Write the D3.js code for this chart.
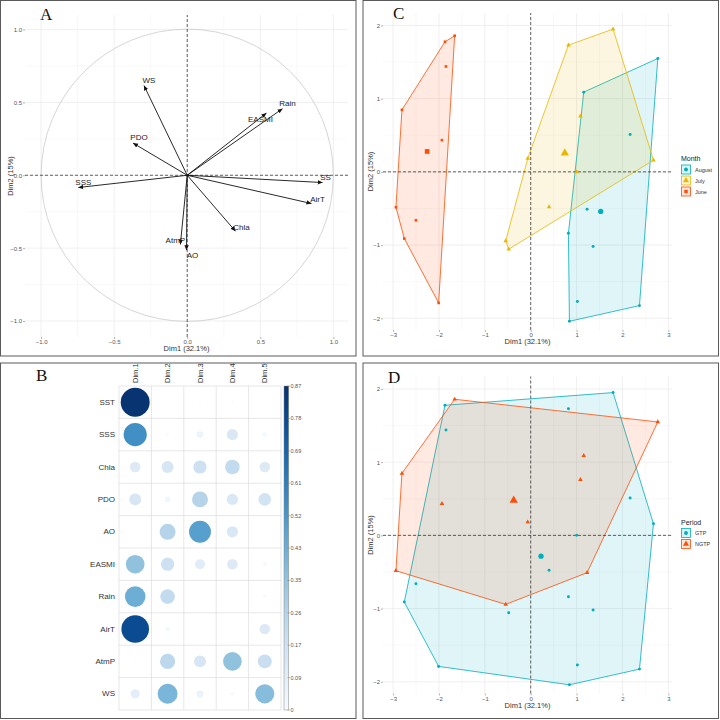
<!DOCTYPE html>
<html><head><meta charset="utf-8">
<script src="https://cdn.jsdelivr.net/npm/d3@7"></script>
<style>body{margin:0;background:#fff}svg{display:block}</style>
</head><body>
<svg id="c" width="720" height="720"></svg>
<script>
// ---------- DATA ----------
// Panel A: variable coordinates on Dim1/Dim2
const varNames  = ["SST","SSS","Chla","PDO","AO","EASMI","Rain","AirT","AtmP","WS"];
const varLabels = ["SS","SSS","Chla","PDO","AO","EASMI","Rain","AirT","AtmP","WS"];
const varDim1 = [0.926,-0.745,0.330,-0.371,-0.005,0.542,0.652,0.850,-0.047,-0.296];
const varDim2 = [-0.050,-0.084,-0.384,0.221,-0.514,0.427,0.457,-0.194,-0.475,0.616];
const ticksA = [-1.0,-0.5,0.0,0.5,1.0];

// Panel B: cos2 of variables on Dim.1..Dim.5
const dimNames = ["Dim.1","Dim.2","Dim.3","Dim.4","Dim.5"];
const cos2Dim1 = [0.857,0.550,0.116,0.146,0.000,0.354,0.434,0.780,0.002,0.088];
const cos2Dim2 = [0.002,0.007,0.146,0.036,0.259,0.179,0.219,0.022,0.237,0.405];
const cos2Dim3 = [0.004,0.045,0.179,0.259,0.490,0.101,0.000,0.000,0.146,0.054];
const cos2Dim4 = [0.004,0.129,0.219,0.129,0.129,0.116,0.000,0.000,0.354,0.011];
const cos2Dim5 = [0.000,0.022,0.116,0.163,0.000,0.016,0.011,0.116,0.199,0.377];
const colorbarLabels = ["0","0.09","0.17","0.26","0.35","0.43","0.52","0.61","0.69","0.78","0.87"];
const cos2Max = 0.87;

// Panels C/D: individuals
const indDim1 = [-1.658,-1.869,-1.847,-2.807,-1.935,-2.938,-2.502,-2.756,-2.007,
                  1.796, 0.822, 1.084,-0.065, 2.676, 1.004, 0.400,-0.545,-0.480,
                  2.771, 1.156, 2.167, 1.229, 0.822, 1.360, 1.018, 0.844, 2.371];
const indDim2 = [ 1.859, 1.777, 1.440, 0.847, 0.433,-0.483,-0.661,-0.911,-1.790,
                  1.950, 1.731, 0.761, 0.182, 0.159, 0.000,-0.478,-0.943,-1.057,
                  1.549, 1.089, 0.510,-0.510,-0.838,-1.020,-1.772,-2.041,-1.827];
const indMonth = ["June","June","June","June","June","June","June","June","June",
                  "July","July","July","July","July","July","July","July","July",
                  "August","August","August","August","August","August","August","August","August"];
const indPeriod = ["NGTP","GTP","GTP","NGTP","NGTP","NGTP","GTP","GTP","GTP",
                   "GTP","GTP","NGTP","NGTP","GTP","GTP","GTP","NGTP","GTP",
                   "NGTP","NGTP","GTP","NGTP","GTP","GTP","GTP","GTP","GTP"];
const monthLevels = ["August","July","June"];
const periodLevels = ["GTP","NGTP"];
const ticksX = [-3,-2,-1,0,1,2,3];
const ticksY = [-2,-1,0,1,2];

// ---------- STYLE ----------
const sans = "Liberation Sans, Arial, Helvetica, sans-serif";
const serif = "Liberation Serif, Times New Roman, serif";
const palette3 = ["#00AFBB","#E7B800","#FC4E07"];
const svg = d3.select("#c");

// panel borders
[[0.5,0.5],[363,0.5],[0.5,363],[363,363]].forEach(([x,y])=>{
  svg.append("rect").attr("x",x).attr("y",y).attr("width",355.5).attr("height",355.5)
    .attr("fill","none").attr("stroke","#5a5a5a").attr("stroke-width",1);
});
function letter(t,x,y){
  svg.append("text").attr("x",x).attr("y",y).text(t)
    .attr("font-family",serif).attr("font-size",17).attr("fill","#111");
}
letter("A",40,20); letter("C",393,18.5); letter("B",36,381); letter("D",388,383);

function styleAxis(g){
  g.select(".domain").remove();
  g.selectAll("line").attr("stroke","#666").attr("stroke-width",0.5);
  g.selectAll("text").attr("font-size",6).attr("fill","#555").attr("font-family",sans);
}
function grid(g, xs, ys, majX, minX, majY, minY){
  const [x0,x1]=xs.range(), [y0,y1]=ys.range();
  minX.forEach(v=>g.append("line").attr("x1",xs(v)).attr("x2",xs(v)).attr("y1",y0).attr("y2",y1).attr("stroke","#f3f3f3").attr("stroke-width",0.5));
  minY.forEach(v=>g.append("line").attr("y1",ys(v)).attr("y2",ys(v)).attr("x1",x0).attr("x2",x1).attr("stroke","#f3f3f3").attr("stroke-width",0.5));
  majX.forEach(v=>g.append("line").attr("x1",xs(v)).attr("x2",xs(v)).attr("y1",y0).attr("y2",y1).attr("stroke","#e6e6e6").attr("stroke-width",0.6));
  majY.forEach(v=>g.append("line").attr("y1",ys(v)).attr("y2",ys(v)).attr("x1",x0).attr("x2",x1).attr("stroke","#e6e6e6").attr("stroke-width",0.6));
}
function dashed(g, xs, ys){
  const [x0,x1]=xs.range(), [y0,y1]=ys.range();
  g.append("line").attr("x1",xs(0)).attr("x2",xs(0)).attr("y1",y0).attr("y2",y1)
    .attr("stroke","#222").attr("stroke-width",0.7).attr("stroke-dasharray","3,2");
  g.append("line").attr("y1",ys(0)).attr("y2",ys(0)).attr("x1",x0).attr("x2",x1)
    .attr("stroke","#222").attr("stroke-width",0.7).attr("stroke-dasharray","3,2");
}
function axisTitles(g, xs, ys, xt, yt, ytX){
  const [x0,x1]=xs.range(), [y0,y1]=ys.range();
  g.append("text").attr("x",(x0+x1)/2).attr("y",y0+14).attr("text-anchor","middle")
    .attr("font-family",sans).attr("font-size",7.5).attr("fill","#333").text(xt);
  g.append("text").attr("transform",`translate(${ytX},${(y0+y1)/2}) rotate(-90)`)
    .attr("text-anchor","middle").attr("dominant-baseline","central")
    .attr("font-family",sans).attr("font-size",7.5).attr("fill","#333").text(yt);
}

// ---------- PANEL A ----------
{
  const g = svg.append("g");
  const xs = d3.scaleLinear().domain([-1.11,1.1]).range([25,348]);
  const ys = d3.scaleLinear().domain([-1.11,1.1]).range([337,15]);
  grid(g, xs, ys, ticksA, [-0.75,-0.25,0.25,0.75], ticksA, [-0.75,-0.25,0.25,0.75]);
  g.append("circle").attr("cx",xs(0)).attr("cy",ys(0)).attr("r",xs(1)-xs(0))
    .attr("fill","none").attr("stroke","#c4c4c4").attr("stroke-width",0.7);
  dashed(g, xs, ys);
  const ax = g.append("g").attr("transform",`translate(0,${ys.range()[0]})`)
    .call(d3.axisBottom(xs).tickValues(ticksA).tickSize(2).tickPadding(1).tickFormat(d3.format(".1f")));
  styleAxis(ax);
  const ay = g.append("g").attr("transform",`translate(${xs.range()[0]},0)`)
    .call(d3.axisLeft(ys).tickValues(ticksA).tickSize(2).tickPadding(1).tickFormat(d3.format(".1f")));
  styleAxis(ay);
  axisTitles(g, xs, ys, "Dim1 (32.1%)", "Dim2 (15%)", 10);

  svg.append("defs").append("marker").attr("id","arr").attr("markerUnits","userSpaceOnUse")
    .attr("markerWidth",6).attr("markerHeight",6).attr("refX",5).attr("refY",3).attr("orient","auto")
    .append("path").attr("d","M0,0.8 L5,3 L0,5.2 Z").attr("fill","#111");
  const nudge = {SST:[3,-5],SSS:[5,-5],Chla:[6,-4],PDO:[6,-6],AO:[6,5],EASMI:[-6,6],Rain:[5,-5],AirT:[6,-4],AtmP:[-5,-4],WS:[5,-5]};
  varNames.forEach((n,i)=>{
    const x = xs(varDim1[i]), y = ys(varDim2[i]);
    g.append("line").attr("x1",xs(0)).attr("y1",ys(0)).attr("x2",x).attr("y2",y)
      .attr("stroke","#111").attr("stroke-width",0.9).attr("marker-end","url(#arr)");
  });
  varNames.forEach((n,i)=>{
    const x = xs(varDim1[i]), y = ys(varDim2[i]);
    g.append("text").attr("x",x+nudge[n][0]).attr("y",y+nudge[n][1])
      .attr("text-anchor","middle").attr("dominant-baseline","central")
      .attr("font-family",sans).attr("font-size",8).attr("fill","#222").text(varLabels[i]);
  });
}

// ---------- PANEL B ----------
{
  const g = svg.append("g");
  const cols = [cos2Dim1,cos2Dim2,cos2Dim3,cos2Dim4,cos2Dim5];
  const bx = d3.scaleBand().domain(dimNames).range([119,281]);
  const by = d3.scaleBand().domain(varNames).range([386,710]);
  const color = d3.scaleSequential(d3.interpolateBlues).domain([0,cos2Max]);
  const size = d3.scaleSqrt().domain([0,cos2Max]).range([0,0.45*bx.bandwidth()]);
  // grid
  const xb = dimNames.map(d=>bx(d)).concat([bx.range()[1]]);
  const yb = varNames.map(d=>by(d)).concat([by.range()[1]]);
  xb.forEach(x=>g.append("line").attr("x1",x).attr("x2",x).attr("y1",386).attr("y2",710).attr("stroke","#dcdcdc").attr("stroke-width",0.7));
  yb.forEach(y=>g.append("line").attr("y1",y).attr("y2",y).attr("x1",119).attr("x2",281).attr("stroke","#dcdcdc").attr("stroke-width",0.7));
  cols.forEach((vals,j)=>{
    vals.forEach((v,i)=>{
      g.append("circle").attr("cx",bx(dimNames[j])+bx.bandwidth()/2)
        .attr("cy",by(varNames[i])+by.bandwidth()/2).attr("r",size(v)).attr("fill",color(v));
    });
  });
  varNames.forEach(n=>{
    g.append("text").attr("x",115).attr("y",by(n)+by.bandwidth()/2).attr("text-anchor","end")
      .attr("dominant-baseline","central").attr("font-family",sans).attr("font-size",8).attr("fill","#333").text(n);
  });
  dimNames.forEach(n=>{
    g.append("text").attr("transform",`translate(${bx(n)+bx.bandwidth()/2},383) rotate(-90)`)
      .attr("dominant-baseline","central").attr("font-family",sans).attr("font-size",7.5).attr("fill","#333").text(n);
  });
  // colorbar
  const grad = svg.append("defs").append("linearGradient").attr("id","cb")
    .attr("x1",0).attr("y1",1).attr("x2",0).attr("y2",0);
  d3.range(0,1.0001,0.1).forEach(t=>grad.append("stop").attr("offset",t).attr("stop-color",d3.interpolateBlues(t)));
  g.append("rect").attr("x",284).attr("y",386).attr("width",4.7).attr("height",324)
    .attr("fill","url(#cb)").attr("stroke","#888").attr("stroke-width",0.5);
  const cy = d3.scaleLinear().domain([0,cos2Max]).range([710,386]);
  colorbarLabels.forEach((l,i)=>{
    const y = cy(cos2Max*i/(colorbarLabels.length-1));
    g.append("line").attr("x1",287.5).attr("x2",290).attr("y1",y).attr("y2",y).attr("stroke","#777").attr("stroke-width",0.5);
    g.append("text").attr("x",290.5).attr("y",y).attr("dominant-baseline","central")
      .attr("font-family",sans).attr("font-size",5.5).attr("fill","#555").text(l);
  });
}

// ---------- PANELS C / D ----------
function indPanel(offY, groupsOf, levels, colors, shapes, title){
  const g = svg.append("g");
  const xs = d3.scaleLinear().domain([-3.22,3.08]).range([383,672]);
  const ys = d3.scaleLinear().domain([-2.16,2.17]).range([330+offY,13+offY]);
  grid(g, xs, ys, ticksX, [-2.5,-1.5,-0.5,0.5,1.5,2.5], ticksY, [-1.5,-0.5,0.5,1.5]);
  const ax = g.append("g").attr("transform",`translate(0,${ys.range()[0]})`)
    .call(d3.axisBottom(xs).tickValues(ticksX).tickSize(2).tickPadding(1).tickFormat(d3.format("d")));
  styleAxis(ax);
  const ay = g.append("g").attr("transform",`translate(${xs.range()[0]},0)`)
    .call(d3.axisLeft(ys).tickValues(ticksY).tickSize(2).tickPadding(1).tickFormat(d3.format("d")));
  styleAxis(ay);
  axisTitles(g, xs, ys, "Dim1 (32.1%)", "Dim2 (15%)", 370);
  const pts = indDim1.map((x,i)=>({x, y:indDim2[i], grp:groupsOf[i]}));
  // hulls
  levels.forEach((lv,k)=>{
    const p = pts.filter(d=>d.grp===lv).map(d=>[xs(d.x),ys(d.y)]);
    const hull = d3.polygonHull(p);
    g.append("path").attr("d","M"+hull.join("L")+"Z").attr("fill",colors[k]).attr("fill-opacity",0.12)
      .attr("stroke",colors[k]).attr("stroke-width",0.8);
  });
  dashed(g, xs, ys);
  // points
  levels.forEach((lv,k)=>{
    const sub = pts.filter(d=>d.grp===lv);
    sub.forEach(d=>{
      g.append("path").attr("d",d3.symbol().type(shapes[k]).size(shapes[k]===d3.symbolTriangle?9:7)())
        .attr("transform",`translate(${xs(d.x)},${ys(d.y)})`).attr("fill",colors[k]);
    });
    const mx = d3.mean(sub,d=>d.x), my = d3.mean(sub,d=>d.y);
    g.append("path").attr("d",d3.symbol().type(shapes[k]).size(shapes[k]===d3.symbolTriangle?30:22)())
      .attr("transform",`translate(${xs(mx)},${ys(my)})`).attr("fill",colors[k]);
  });
  // legend
  const lx = 681.5, ly0 = 169.5 + offY;
  g.append("text").attr("x",681).attr("y",ly0-11).attr("dominant-baseline","central")
    .attr("font-family",sans).attr("font-size",7).attr("fill","#222").text(title);
  levels.forEach((lv,k)=>{
    const y = ly0 + k*11;
    g.append("rect").attr("x",lx).attr("y",y-4.5).attr("width",9).attr("height",9)
      .attr("fill",colors[k]).attr("fill-opacity",0.15).attr("stroke",colors[k]).attr("stroke-width",0.8);
    g.append("path").attr("d",d3.symbol().type(shapes[k]).size(shapes[k]===d3.symbolTriangle?16:12)())
      .attr("transform",`translate(${lx+4.5},${y})`).attr("fill",colors[k]);
    g.append("text").attr("x",695).attr("y",y).attr("dominant-baseline","central")
      .attr("font-family",sans).attr("font-size",5.5).attr("fill","#333").text(lv);
  });
}
indPanel(0, indMonth, monthLevels, palette3, [d3.symbolCircle,d3.symbolTriangle,d3.symbolSquare], "Month");
indPanel(363.5, indPeriod, periodLevels, [palette3[0],palette3[2]], [d3.symbolCircle,d3.symbolTriangle], "Period");
</script>
</body></html>
